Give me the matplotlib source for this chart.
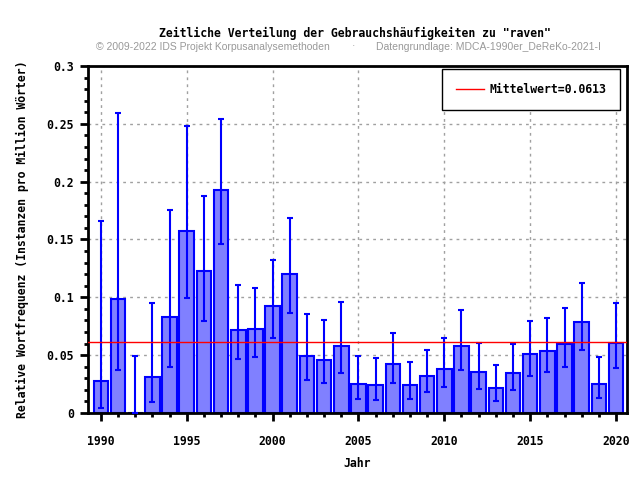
import matplotlib
matplotlib.use("Agg")
import matplotlib.pyplot as plt
from matplotlib.ticker import MultipleLocator

years = list(range(1990, 2021))
freq = [0.0279, 0.0988, 0.0, 0.0314, 0.0833, 0.1576, 0.1230, 0.1930, 0.0720, 0.0729,
        0.0928, 0.1205, 0.0496, 0.0461, 0.0582, 0.0248, 0.0240, 0.0426, 0.0240, 0.0317,
        0.0383, 0.0582, 0.0357, 0.0219, 0.0349, 0.0513, 0.0539, 0.0599, 0.0789, 0.0253,
        0.0608]
err_hi = [0.1660, 0.2596, 0.0490, 0.0954, 0.1755, 0.2484, 0.1879, 0.2545, 0.1107, 0.1080,
          0.1326, 0.1689, 0.0856, 0.0807, 0.0962, 0.0496, 0.0478, 0.0694, 0.0444, 0.0548,
          0.0651, 0.0893, 0.0608, 0.0418, 0.0597, 0.0798, 0.0824, 0.0910, 0.1127, 0.0487,
          0.0951]
err_lo = [0.0046, 0.0372, 0.0, 0.0098, 0.0400, 0.0994, 0.0798, 0.1464, 0.0467, 0.0487,
          0.0651, 0.0865, 0.0285, 0.0262, 0.0349, 0.0121, 0.0112, 0.0262, 0.0121, 0.0182,
          0.0228, 0.0372, 0.0207, 0.0107, 0.0199, 0.0323, 0.0354, 0.0400, 0.0548, 0.0130,
          0.0392]
mean = 0.0613

mono = "DejaVu Sans Mono"
fs = 8.3

fig = plt.figure(figsize=(6.4, 4.8), dpi=100)
ax = fig.add_axes([0.1375, 0.1396, 0.8425, 0.7229])

yerr = [[f - lo for f, lo in zip(freq, err_lo)], [hi - f for f, hi in zip(freq, err_hi)]]
ax.bar(years, freq, width=0.85, color="#8080ff", edgecolor="#0000ff", linewidth=1.5, zorder=2)
ax.errorbar(years, freq, yerr=yerr, fmt="none", ecolor="#0000ff", elinewidth=1.5,
            capsize=2.5, capthick=1.5, zorder=3)
ax.axhline(mean, color="#ff0000", linewidth=1, zorder=4, label="Mittelwert=0.0613")

ax.set_xlim(1989.25, 2020.65)
ax.set_ylim(0, 0.3)
ax.xaxis.set_major_locator(MultipleLocator(5))
ax.xaxis.set_minor_locator(MultipleLocator(1))
ax.yaxis.set_major_locator(MultipleLocator(0.05))
ax.yaxis.set_minor_locator(MultipleLocator(0.01))
ax.set_yticks([0, 0.05, 0.1, 0.15, 0.2, 0.25, 0.3])
ax.set_yticklabels(["0", "0.05", "0.1", "0.15", "0.2", "0.25", "0.3"])
ax.tick_params(which="major", direction="out", length=6, width=2)
ax.tick_params(which="minor", direction="out", length=3, width=2)
ax.tick_params(top=False, right=False)
for lab in ax.get_xticklabels() + ax.get_yticklabels():
    lab.set_family(mono)
    lab.set_weight("bold")
    lab.set_fontsize(fs)
ax.tick_params(axis="x", pad=10)
ax.tick_params(axis="y", pad=4)
for sp in ax.spines.values():
    sp.set_linewidth(2)
ax.grid(True, which="major", linestyle=(0, (2, 3)), color="#a0a0a0", linewidth=1, zorder=0)
ax.set_axisbelow(True)

ax.set_xlabel("Jahr", family=mono, weight="bold", fontsize=fs, labelpad=6)
ax.set_ylabel("Relative Wortfrequenz (Instanzen pro Million Wörter)", family=mono,
              weight="bold", fontsize=fs, labelpad=13)

leg = ax.legend(loc="upper right", prop={"family": mono, "weight": "bold", "size": fs},
                fancybox=False, framealpha=1, edgecolor="black", borderpad=1.2,
                handlelength=2.4, handletextpad=0.5, borderaxespad=0,
                bbox_to_anchor=(0.9875, 0.991))
leg.get_frame().set_linewidth(1)

fig.text(0.555, 0.931, 'Zeitliche Verteilung der Gebrauchshäufigkeiten zu "raven"',
         family=mono, weight="bold", fontsize=fs, ha="center", va="center")
fig.text(0.150, 0.903, "© 2009-2022 IDS Projekt Korpusanalysemethoden", family="Liberation Sans",
         fontsize=7.5, color="#999999", ha="left", va="center")
fig.text(0.552, 0.903, "·", family="Liberation Sans", fontsize=7.5, color="#999999",
         ha="center", va="center")
fig.text(0.587, 0.903, "Datengrundlage: MDCA-1990er_DeReKo-2021-I", family="Liberation Sans",
         fontsize=7.5, color="#999999", ha="left", va="center")

fig.savefig("out.png", dpi=100)
